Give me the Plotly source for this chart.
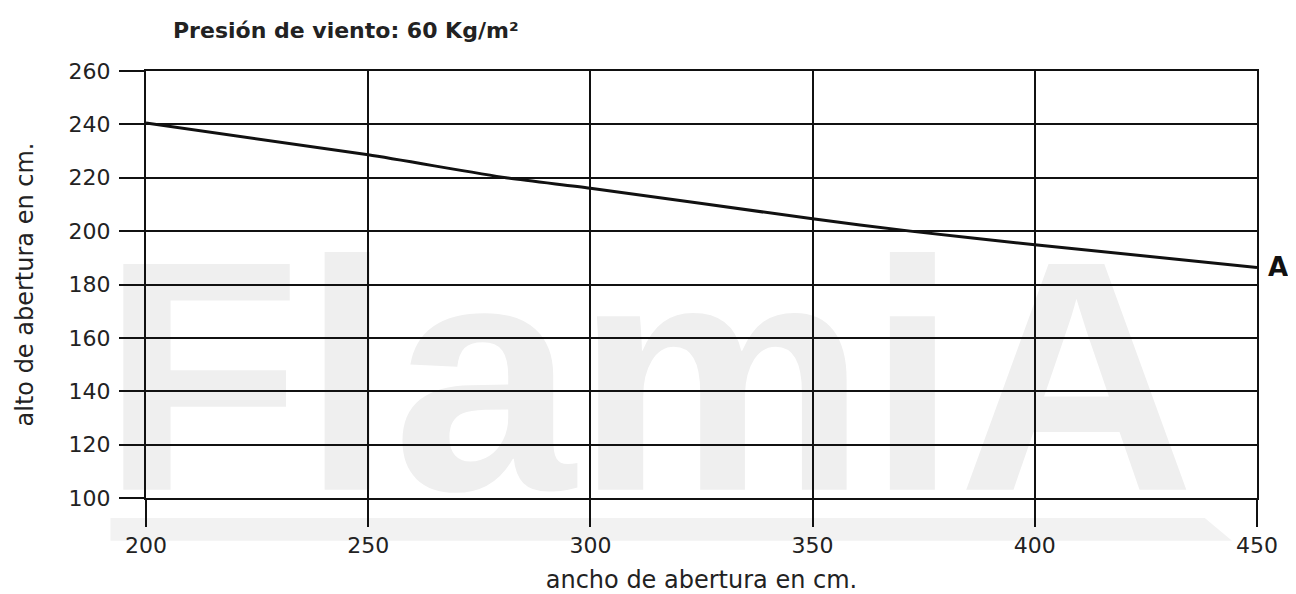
import plotly.graph_objects as go

# data
ancho = [200, 250, 281, 300, 350, 372, 400, 450]
alto = [240.5, 228.6, 220.0, 216.1, 204.6, 200.0, 194.9, 186.4]
x_ticks = [200, 250, 300, 350, 400, 450]
y_ticks = [100, 120, 140, 160, 180, 200, 220, 240, 260]
curve_name = "A"
title_text = "Presión de viento: 60 Kg/m²"
x_title = "ancho de abertura en cm."
y_title = "alto de abertura en cm."
watermark = "FlamiA"

FONT = "DejaVu Sans"
INK = "#111111"
TXT = "#222222"

fig = go.Figure()
fig.add_trace(go.Scatter(
    x=ancho, y=alto, mode="lines", name=curve_name,
    line=dict(color=INK, width=3, shape="spline", smoothing=0.6),
    showlegend=False, hoverinfo="x+y",
))

axis_common = dict(
    showgrid=True, gridcolor=INK, gridwidth=2,
    showline=True, linecolor=INK, linewidth=2, mirror=True,
    ticks="outside", tickcolor=INK, tickwidth=2,
    zeroline=False,
    tickfont=dict(family=FONT, size=22, color=TXT),
)

fig.update_xaxes(
    range=[200, 450], tickvals=x_ticks, ticklen=27,
    title=dict(text=x_title, font=dict(family=FONT, size=24, color=TXT), standoff=21),
    **axis_common,
)
fig.update_yaxes(
    range=[100, 260], tickvals=y_ticks, ticklen=25, ticklabelstandoff=4,
    title=dict(text=y_title, font=dict(family=FONT, size=24, color=TXT), standoff=28),
    **axis_common,
)

# watermark behind the grid
fig.add_shape(
    type="rect", xref="paper", yref="paper", x0=-0.05, x1=0.954, y0=0.058, y1=0.658,
    line=dict(width=0), fillcolor="rgba(0,0,0,0)", layer="below",
    label=dict(text=watermark,
               font=dict(family="Liberation Sans", size=328, color="#efefef", weight="bold"),
               textposition="middle center"),
)
fig.add_shape(
    type="path", xref="paper", yref="paper", layer="below",
    path="M -0.032 -0.047 L 0.953 -0.047 L 0.9775 -0.10 L -0.032 -0.10 Z",
    line=dict(width=0), fillcolor="#f2f2f2",
)

fig.add_annotation(
    x=450, y=alto[-1], xref="x", yref="y", text="<b>%s</b>" % curve_name,
    showarrow=False, xanchor="left", xshift=9,
    font=dict(family=FONT, size=26, color=INK),
)
fig.add_annotation(
    x=0.0225, y=1.096, xref="paper", yref="paper", text="<b>%s</b>" % title_text,
    showarrow=False, xanchor="left", yanchor="middle",
    font=dict(family=FONT, size=22, color=TXT),
)

# page body has an 8px margin: figure is offset by 8px, so size it accordingly
fig.update_layout(
    width=1288, height=586,
    margin=dict(l=138, r=39, t=63, b=96, autoexpand=False),
    plot_bgcolor="rgba(0,0,0,0)", paper_bgcolor="white",
    showlegend=False,
)

fig.write_html("out.html")
